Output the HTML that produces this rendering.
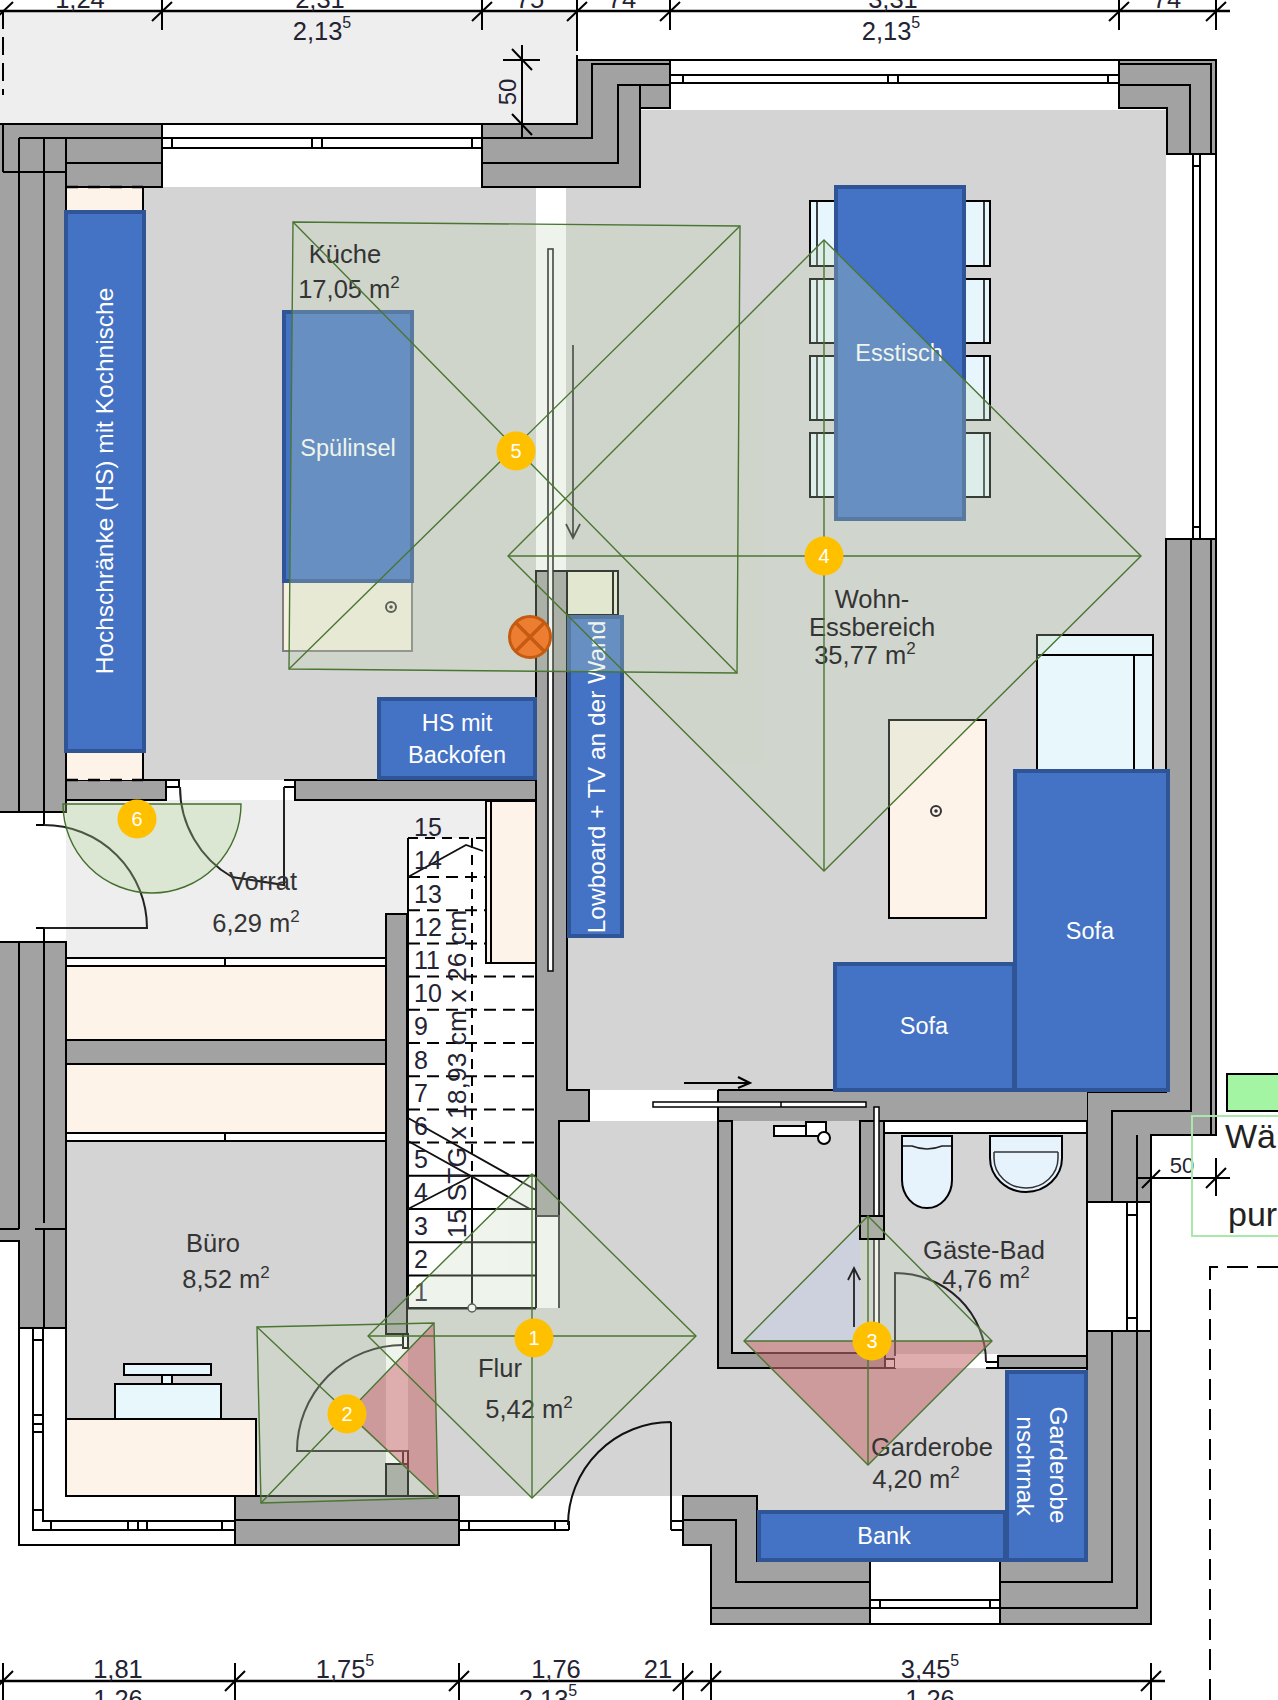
<!DOCTYPE html>
<html><head><meta charset="utf-8">
<style>
html,body{margin:0;padding:0;background:#fff;}
body{width:1278px;height:1700px;overflow:hidden;}
svg{display:block;font-family:"Liberation Sans",sans-serif;}
.w{fill:#a2a2a2;stroke:#000;stroke-width:2;}
.l{stroke:#000;stroke-width:2;fill:none;}
.t{stroke:#000;stroke-width:1.5;fill:none;}
.fl{fill:#d4d4d4;}
.cr{fill:#fdf3e9;stroke:#000;stroke-width:2;}
.bl{fill:#4472c4;stroke:#2f5597;stroke-width:4;}
.rt{fill:#343434;font-size:25.5px;}
.dt{fill:#232333;font-size:25.5px;}
.bt{fill:#fff;font-size:23.5px;}
.g{fill:rgba(198,218,186,0.28);stroke:#4f7e33;stroke-width:1.4;}
.gl{stroke:#4a7631;stroke-width:1.4;fill:none;}
.pk{fill:rgba(200,75,88,0.42);}
.yc{fill:#ffc000;}
.yt{fill:#fff;font-size:20px;text-anchor:middle;}
</style></head>
<body>
<svg width="1278" height="1700" viewBox="0 0 1278 1700">
<!-- FLOORS -->
<g id="floors">
<rect x="0" y="11" width="577" height="113" fill="#eeeeee"/>
<rect x="66" y="187" width="470" height="593" class="fl"/>
<rect x="640" y="110" width="526" height="980" class="fl"/>
<rect x="566" y="187" width="80" height="903" class="fl"/>
<rect x="66" y="800" width="341" height="158" fill="#eeeeee"/>
<rect x="407" y="800" width="80" height="38" fill="#eeeeee"/>
<rect x="66" y="1141" width="320" height="355" class="fl"/>
<rect x="386" y="1121" width="701" height="375" class="fl"/>
<rect x="757" y="1368" width="330" height="142" class="fl"/>
<rect x="407" y="838" width="129" height="470" fill="#fff"/>
<rect x="536" y="1216" width="23" height="92" fill="#fff"/>
<rect x="66" y="966" width="320" height="74" fill="#fdf3e9"/>
<rect x="66" y="1064" width="320" height="69" fill="#fdf3e9"/>
<rect x="386" y="1334" width="22" height="130" fill="#fff"/>
</g>
<!-- WALLS -->
<g id="walls">
<!-- left upper wall -->
<rect x="-2" y="124" width="68" height="688" class="w"/>
<rect x="3" y="124" width="159" height="63" class="w"/>
<rect x="0" y="125" width="65" height="686" fill="#a2a2a2"/>
<path class="l" d="M19 138H162M19 138V812M44 138V812M66 138V812M3 172H66M66 163H162M3 124V172"/>
<!-- top window left -->
<path class="l" d="M162 124H482M162 138H482M162 148H482M172 138V148M472 138V148M312 138V148M322 138V148"/>
<!-- top middle wall -->
<path class="w" d="M482 124H577V60H670V108H640V187H482Z"/>
<path class="l" d="M482 138H592V64H670M482 163H618V85H670M640 85V108"/>
<!-- top right window -->
<path class="l" d="M670 60H1119M670 75H1119M670 83H1119M683 75V83M1108 75V83M888 75V83M898 75V83"/>
<!-- top right corner -->
<path class="w" d="M1119 60H1216V154H1167V108H1119Z"/>
<path class="l" d="M1119 85H1190V154M1119 64H1211V154"/>
<!-- right window -->
<path class="l" d="M1216 154V539M1193 154V539M1200 154V539M1193 166H1200M1193 527H1200"/>
<!-- right wall -->
<path class="w" d="M1166 539H1216V1135H1151V1202H1087V1092H1166Z"/>
<path class="l" d="M1191 539V1111H1112V1202M1211 539V1135M1137 1135V1202"/>
<!-- right lower window -->
<path class="l" d="M1087 1202V1331M1151 1202V1331M1127 1202V1331M1137 1202V1331M1127 1215H1137M1127 1318H1137"/>
<!-- right lower wall -->
<path class="w" d="M1087 1331H1151V1624H1000V1561H1087Z"/>
<path class="l" d="M1112 1331V1582H1000M1137 1331V1608H1000"/>
<!-- bottom window -->
<path class="l" d="M870 1561V1624M1000 1561V1624M870 1600H1000M870 1608H1000M870 1624H1000M880 1600V1608M990 1600V1608"/>
<!-- bottom left garderobe wall -->
<path class="w" d="M683 1496H757V1561H870V1624H711V1545H683Z"/>
<path class="l" d="M683 1520H736V1582H870M711 1545V1608H870"/>
<!-- mid vertical wall -->
<path class="w" d="M536 571H567V1090H589V1121H559V1216H536Z"/>
<!-- kitchen bottom wall -->
<rect x="66" y="780" width="100" height="20" class="w"/>
<rect x="295" y="780" width="241" height="20" class="w"/>
<path class="l" d="M166 780H179V787H166M284 780H295V787H284"/>
<!-- left lower wall -->
<path class="w" d="M-2 942H66V1328H19V1241H-2Z"/>
<path class="l" d="M19 942V1229M44 942V1223M44 1229V1328M0 1229H19M35 1229H66M0 1241H19"/>
<path class="l" d="M36 812H44V825H36M36 928H44V942H36"/>
<!-- left window lower -->
<path class="l" d="M19 1241V1545H235M33 1328V1530H235M43 1328V1521H235M66 1328V1496M33 1340H43M33 1415H43M33 1424H43M33 1432H43M33 1510H43M51 1521V1530M128 1521V1530M138 1521V1530M147 1521V1530M222 1521V1530"/>
<!-- storage wall -->
<rect x="386" y="914" width="21" height="420" class="w"/>
<rect x="66" y="1040" width="320" height="24" class="w"/>
<path class="l" d="M66 958H386M66 966H386M66 1133H386M66 1141H386M225 958V966M225 1133V1141"/>
<!-- bueroo bottom wall -->
<rect x="235" y="1496" width="224" height="49" class="w"/>
<path class="l" d="M235 1520H459"/>
<rect x="386" y="1464" width="22" height="32" class="w"/>
<path class="l" d="M403 1334H408V1348H403ZM403 1451H408V1464H403Z"/>
<!-- front window frames -->
<path class="l" d="M459 1521H569M459 1530H569M569 1521V1530M469 1521V1530M555 1521V1530M671 1521H683V1530H671"/>
<!-- shower/bath walls -->
<rect x="718" y="1090" width="369" height="31" fill="#a2a2a2"/>
<path class="w" d="M718 1121H732V1353H885V1368H718Z"/>
<rect x="860" y="1121" width="24" height="118" class="w"/>
<rect x="885" y="1359" width="10" height="9" fill="#fff" stroke="#000" stroke-width="2"/>
<path class="l" d="M718 1090H1087M718 1090V1368"/>
<rect x="895" y="1354" width="103" height="14" fill="#fff"/>
<rect x="998" y="1356" width="89" height="12" class="w"/>
<path class="l" d="M986 1362H998V1368H986"/>
</g>
<!-- FURNITURE -->
<g id="furn">
<!-- doors -->
<path d="M44 825A103 103 0 0 1 147 928H44" stroke="#222" stroke-width="2" fill="none"/>
<path d="M180 787A104 104 0 0 0 232 877L284 885V787" stroke="#222" stroke-width="2" fill="none"/>
<path d="M403 1345A106 106 0 0 0 297 1451H408" stroke="#222" stroke-width="2" fill="none"/>
<path d="M671 1422A103 103 0 0 0 568 1525M671 1422V1530" stroke="#111" stroke-width="2" fill="none"/>
<path d="M895 1356V1273A91 89 0 0 1 986 1362" stroke="#222" stroke-width="2" fill="none"/>
<path class="l" d="M408 838V1308H536M536 801V1308"/>
<path d="M408 838H536M472 838V1176" stroke="#000" stroke-width="2" stroke-dasharray="10 7" fill="none"/>
<path d="M408 877.0H536" stroke="#000" stroke-width="2" stroke-dasharray="12 7" fill="none"/>
<path d="M408 910.2H536" stroke="#000" stroke-width="2" stroke-dasharray="12 7" fill="none"/>
<path d="M408 943.4H536" stroke="#000" stroke-width="2" stroke-dasharray="12 7" fill="none"/>
<path d="M408 976.6H536" stroke="#000" stroke-width="2" stroke-dasharray="12 7" fill="none"/>
<path d="M408 1009.8H536" stroke="#000" stroke-width="2" stroke-dasharray="12 7" fill="none"/>
<path d="M408 1043.0H536" stroke="#000" stroke-width="2" stroke-dasharray="12 7" fill="none"/>
<path d="M408 1076.2H536" stroke="#000" stroke-width="2" stroke-dasharray="12 7" fill="none"/>
<path d="M408 1109.4H536" stroke="#000" stroke-width="2" stroke-dasharray="12 7" fill="none"/>
<path d="M408 1142.6H536" stroke="#000" stroke-width="2" stroke-dasharray="12 7" fill="none"/>
<path class="l" d="M408 1175.8H536"/>
<path class="l" d="M408 1209.0H536"/>
<path class="l" d="M408 1242.2H536"/>
<path class="l" d="M408 1275.4H536"/>
<path class="l" d="M408 1308.6H536"/>
<path class="l" d="M472 1176V1304"/><circle cx="472" cy="1308" r="4" fill="#fff" stroke="#333" stroke-width="1.5"/>
<path d="M408 877L466 845L483 851M408 1118L536 1190M408 1141L530 1209M408 1209L470 1177" stroke="#111" stroke-width="1.8" fill="none"/>
<text x="414" y="1301.0" style="font-size:25px;fill:#232333">1</text>
<text x="414" y="1267.8" style="font-size:25px;fill:#232333">2</text>
<text x="414" y="1234.6" style="font-size:25px;fill:#232333">3</text>
<text x="414" y="1201.4" style="font-size:25px;fill:#232333">4</text>
<text x="414" y="1168.2" style="font-size:25px;fill:#232333">5</text>
<text x="414" y="1135.0" style="font-size:25px;fill:#232333">6</text>
<text x="414" y="1101.8" style="font-size:25px;fill:#232333">7</text>
<text x="414" y="1068.6" style="font-size:25px;fill:#232333">8</text>
<text x="414" y="1035.4" style="font-size:25px;fill:#232333">9</text>
<text x="414" y="1002.2" style="font-size:25px;fill:#232333">10</text>
<text x="414" y="969.0" style="font-size:25px;fill:#232333">11</text>
<text x="414" y="935.8" style="font-size:25px;fill:#232333">12</text>
<text x="414" y="902.6" style="font-size:25px;fill:#232333">13</text>
<text x="414" y="869.4" style="font-size:25px;fill:#232333">14</text>
<text x="414" y="836.2" style="font-size:25px;fill:#232333">15</text>
<text transform="translate(466 1074) rotate(-90)" text-anchor="middle" style="font-size:26.5px;fill:#232333">15 STG x 18,93 cm x 26 cm</text>
<path d="M536 1216H559V1308" stroke="#333" stroke-width="2" fill="none"/>
<!-- dims -->
<path d="M0 11H1230" stroke="#000" stroke-width="2.5"/>
<path d="M3 11V95" stroke="#000" stroke-width="2" stroke-dasharray="18 8"/>
<path d="M577 11V124" stroke="#000" stroke-width="2" stroke-dasharray="40 4"/>
<path class="l" d="M162 0V30M482 0V30M577 0V30M670 0V30M1119 0V30M1216 0V30"/>
<path class="l" d="M152 21L172 2M472 21L492 2M567 21L587 2M660 21L680 2M1109 21L1129 2M1206 21L1226 2M-7 21L13 2"/>
<g class="dt" text-anchor="middle">
<text x="80" y="8">1,24</text><text x="320" y="8">2,31</text><text x="530" y="8">75</text><text x="622" y="8">74</text><text x="893" y="8">3,31</text><text x="1167" y="8">74</text>
<text x="322" y="40">2,13<tspan dy="-12" style="font-size:16px">5</tspan></text>
<text x="891" y="40">2,13<tspan dy="-12" style="font-size:16px">5</tspan></text>
</g>
<!-- 50 dim -->
<path class="l" d="M522 45V138M503 60H540M512 49L532 70M512 114L532 135"/>
<text transform="translate(516 92) rotate(-90)" text-anchor="middle" class="dt" style="font-size:24px">50</text>
<!-- bottom dims -->
<path d="M0 1681H1165" stroke="#000" stroke-width="2.5"/>
<path class="l" d="M3 1663V1700M235 1663V1700M459 1663V1700M683 1663V1700M711 1663V1700M1151 1663V1700"/>
<path class="l" d="M-7 1691L13 1671M225 1691L245 1671M449 1691L469 1671M673 1691L693 1671M701 1691L721 1671M1141 1691L1161 1671"/>
<g class="dt" text-anchor="middle">
<text x="118" y="1678">1,81</text><text x="345" y="1678">1,75<tspan dy="-12" style="font-size:16px">5</tspan></text>
<text x="556" y="1678">1,76</text><text x="658" y="1678">21</text><text x="930" y="1678">3,45<tspan dy="-12" style="font-size:16px">5</tspan></text>
<text x="118" y="1708">1,26</text><text x="548" y="1708">2,13<tspan dy="-12" style="font-size:16px">5</tspan></text><text x="930" y="1708">1,26</text>
</g>
<!-- right 50 dim -->
<path class="l" d="M1137 1178H1230M1216 1158V1196M1206 1188L1226 1168M1142 1188L1160 1170"/>
<text x="1182" y="1173" text-anchor="middle" class="dt" style="font-size:22px">50</text>
<text x="1225" y="1148" class="dt" style="font-size:34px;fill:#222">Wä</text>
<text x="1228" y="1226" class="dt" style="font-size:34px;fill:#222">pur</text>

<!-- HS kitchen -->
<rect x="66" y="188" width="77" height="22" fill="#fdf3e9"/>
<rect x="66" y="752" width="77" height="28" fill="#fdf3e9"/>
<path class="l" d="M66 187V210M143 187V210M66 752V780M143 752V780" />
<path d="M66 187H143M66 780H143" stroke="#000" stroke-width="2.5" stroke-dasharray="12 10"/>
<rect x="66" y="212" width="78" height="539" class="bl"/>
<!-- Spuelinsel -->
<rect x="283" y="582" width="129" height="69" fill="#f6f0e0" stroke="#7f7f7f" stroke-width="2"/>
<circle cx="391" cy="607" r="5" fill="none" stroke="#333" stroke-width="2"/>
<circle cx="391" cy="607" r="1.8" fill="#333"/>
<rect x="284" y="312" width="128" height="269" class="bl"/>
<!-- HS mit Backofen -->
<rect x="379" y="699" width="156" height="79" class="bl"/>
<!-- TV cabinet + lowboard -->
<rect x="567" y="571" width="51" height="44" fill="#eeeed8" stroke="#000" stroke-width="2"/>
<path class="l" d="M613 571V615"/>
<rect x="569" y="617" width="53" height="319" class="bl"/>
<!-- glass partition -->
<rect x="548" y="249" width="5" height="722" fill="#fff" stroke="#111" stroke-width="1.6"/>
<path d="M573 345V538M566 524L573 538L580 524" stroke="#222" stroke-width="1.7" fill="none"/>
<!-- Esstisch chairs -->
<g fill="#e6f6fc" stroke="#000" stroke-width="2">
<rect x="810" y="201" width="26" height="65"/><rect x="810" y="279" width="26" height="64"/><rect x="810" y="356" width="26" height="64"/><rect x="810" y="433" width="26" height="64"/>
<rect x="964" y="201" width="26" height="65"/><rect x="964" y="279" width="26" height="64"/><rect x="964" y="356" width="26" height="64"/><rect x="964" y="433" width="26" height="64"/>
</g>
<path class="t" d="M817 201V266M817 279V343M817 356V420M817 433V497M984 201V266M984 279V343M984 356V420M984 433V497"/>
<rect x="836" y="187" width="128" height="332" class="bl"/>
<!-- armchair -->
<rect x="1037" y="635" width="116" height="135" fill="#e8f7fc" stroke="#000" stroke-width="2"/>
<path class="l" d="M1037 655H1153M1134 655V770"/>
<!-- coffee table -->
<rect x="889" y="720" width="97" height="198" fill="#fdf3e9" stroke="#000" stroke-width="2"/>
<circle cx="936" cy="811" r="5" fill="none" stroke="#333" stroke-width="2"/>
<circle cx="936" cy="811" r="1.8" fill="#333"/>
<!-- sofas -->
<rect x="1015" y="771" width="153" height="319" class="bl"/>
<rect x="835" y="964" width="179" height="126" class="bl"/>
<!-- storage by stairs -->
<rect x="486" y="801" width="50" height="162" fill="#fdf3e9" stroke="#000" stroke-width="2"/>
<path class="l" d="M491 801V963"/>
<!-- Buero desk -->
<rect x="66" y="1419" width="190" height="77" fill="#fdf3e9" stroke="#000" stroke-width="2"/>
<rect x="115" y="1384" width="106" height="35" fill="#e8f7fc" stroke="#000" stroke-width="2"/>
<rect x="162" y="1375" width="10" height="9" fill="#e8f7fc" stroke="#000" stroke-width="2"/>
<rect x="124" y="1364" width="87" height="11" fill="#e8f7fc" stroke="#000" stroke-width="2"/>
<!-- garderobe -->
<rect x="759" y="1512" width="246" height="48" class="bl"/>
<rect x="1007" y="1372" width="79" height="188" class="bl"/>
<!-- guest bath -->
<rect x="884" y="1121" width="203" height="12" fill="#fff" stroke="#000" stroke-width="2"/>
<path d="M902 1136H952V1180A25 28 0 0 1 902 1180Z" fill="#e6f2fc" stroke="#000" stroke-width="2"/>
<path d="M903 1146H912Q927 1152 942 1146H951" stroke="#222" stroke-width="1.5" fill="none"/>
<path d="M990 1136H1062V1158A36 34 0 0 1 990 1158Z" fill="#e6f2fc" stroke="#000" stroke-width="2"/>
<path d="M994 1152H1058" stroke="#333" stroke-width="1.5" fill="none"/>
<path d="M994 1152V1158A32 30 0 0 0 1058 1158V1152" stroke="#333" stroke-width="1.5" fill="none"/>
<!-- shower fixture -->
<rect x="774" y="1126" width="34" height="10" fill="#fff" stroke="#000" stroke-width="2"/>
<rect x="806" y="1122" width="20" height="14" fill="#fff" stroke="#000" stroke-width="2"/>
<circle cx="824" cy="1138" r="6" fill="#fff" stroke="#000" stroke-width="2"/>
<!-- sliding door rail -->
<rect x="653" y="1102" width="213" height="5" fill="#fff" stroke="#000" stroke-width="1.5"/><path d="M781 1102V1107" stroke="#000" stroke-width="1.5"/>
<path d="M684 1083H750M738 1077L750 1083L738 1088" stroke="#000" stroke-width="2" fill="none"/>
<rect x="874" y="1107" width="5" height="251" fill="#fff" stroke="#000" stroke-width="1.5"/>
<!-- shower up arrow -->
<path d="M854 1327V1268M848 1280L854 1268L860 1280" stroke="#222" stroke-width="1.8" fill="none"/>
<!-- waesche -->
<rect x="1227" y="1074" width="60" height="37" fill="#a3f5a3" stroke="#000" stroke-width="2"/>
<rect x="1192" y="1116" width="100" height="120" fill="none" stroke="#a8e8a8" stroke-width="2"/>
<path d="M1210 1700V1267H1290" stroke="#000" stroke-width="2" fill="none" stroke-dasharray="21 9"/>
</g>
<!-- TEXT -->
<g id="text">

<g class="bt" text-anchor="middle">
<text x="348" y="456">Spülinsel</text>
<text x="899" y="361">Esstisch</text>
<text x="457" y="731">HS mit</text>
<text x="457" y="763">Backofen</text>
<text x="1090" y="939">Sofa</text>
<text x="924" y="1034">Sofa</text>
<text x="884" y="1544">Bank</text>
<text transform="translate(113 481) rotate(-90)" style="font-size:24.5px">Hochschränke (HS) mit Kochnische</text>
<text transform="translate(605 777) rotate(-90)" style="font-size:24.5px">Lowboard + TV an der Wand</text>
<text transform="translate(1050 1465) rotate(90)" style="font-size:24.5px">Garderobe</text>
<text transform="translate(1017 1466) rotate(90)" style="font-size:24.5px">nschrnak</text>
</g>
</g>
<!-- OVERLAYS -->
<g id="over">
<g opacity="0.28" fill="rgb(198,218,186)">
<path d="M293 222L740 226L737 673L289 669Z"/>
<path d="M824 240L1141 556L824 871L508 556Z"/>
<path d="M257 1327L434 1323L438 1498L261 1503Z"/>
<path d="M532 1174L696 1336L532 1498L368 1336Z"/>
<path d="M868 1216L992 1341L868 1465L744 1341Z"/>
</g>
<path d="M63 804H241A89 89 0 0 1 63 804Z" fill="rgba(175,212,150,0.3)" stroke="#446f2c" stroke-width="1.4"/>
<path d="M744 1341L860 1225V1341Z" fill="rgb(205,209,221)"/>
<path d="M854 1327V1268M848 1280L854 1268L860 1280" stroke="#222" stroke-width="1.8" fill="none"/>
<rect x="860" y="1216" width="24" height="23" fill="#a9ada6" stroke="#000" stroke-width="2"/>
<path class="pk" d="M347 1414L434 1323L438 1498Z"/>
<path class="pk" d="M744 1341H992L868 1465Z"/>
<g class="rt" text-anchor="middle">
<text x="345" y="263">Küche</text>
<text x="349" y="298">17,05 m<tspan dy="-10" style="font-size:17px">2</tspan></text>
<text x="872" y="608">Wohn-</text>
<text x="872" y="636">Essbereich</text>
<text x="865" y="664">35,77 m<tspan dy="-10" style="font-size:17px">2</tspan></text>
<text x="263" y="890">Vorrat</text>
<text x="256" y="932">6,29 m<tspan dy="-10" style="font-size:17px">2</tspan></text>
<text x="213" y="1252">Büro</text>
<text x="226" y="1288">8,52 m<tspan dy="-10" style="font-size:17px">2</tspan></text>
<text x="500" y="1377">Flur</text>
<text x="529" y="1418">5,42 m<tspan dy="-10" style="font-size:17px">2</tspan></text>
<text x="984" y="1259">Gäste-Bad</text>
<text x="986" y="1288">4,76 m<tspan dy="-10" style="font-size:17px">2</tspan></text>
<text x="932" y="1456">Garderobe</text>
<text x="916" y="1488">4,20 m<tspan dy="-10" style="font-size:17px">2</tspan></text>
</g>
<g class="gl">
<path d="M293 222L740 226L737 673L289 669Z"/>
<path d="M293 222L737 673M740 226L289 669"/>
<path d="M824 240L1141 556L824 871L508 556Z"/>
<path d="M508 556H1141M824 240V871"/>
<path d="M257 1327L434 1323L438 1498L261 1503Z"/>
<path d="M257 1327L438 1498M434 1323L261 1503"/>
<path d="M532 1174L696 1336L532 1498L368 1336Z"/>
<path d="M368 1336H696M532 1174V1498"/>
<path d="M868 1216L992 1341L868 1465L744 1341Z"/>
<path d="M744 1341H992M868 1216V1465"/>
</g>
<!-- orange x -->
<circle cx="530" cy="637" r="20.5" fill="#ed7d31" stroke="#c55a11" stroke-width="3"/>
<path d="M515.5 622.5L544.5 651.5M544.5 622.5L515.5 651.5" stroke="#c55a11" stroke-width="3.5"/>
<g>
<circle cx="516" cy="451" r="19.5" class="yc"/><text x="516" y="458" class="yt">5</text>
<circle cx="824" cy="556" r="19.5" class="yc"/><text x="824" y="563" class="yt">4</text>
<circle cx="137" cy="819" r="19.5" class="yc"/><text x="137" y="826" class="yt">6</text>
<circle cx="347" cy="1414" r="19.5" class="yc"/><text x="347" y="1421" class="yt">2</text>
<circle cx="534" cy="1338" r="19.5" class="yc"/><text x="534" y="1345" class="yt">1</text>
<circle cx="872" cy="1341" r="19.5" class="yc"/><text x="872" y="1348" class="yt">3</text>
</g>
</g>
</svg>
</body></html>
